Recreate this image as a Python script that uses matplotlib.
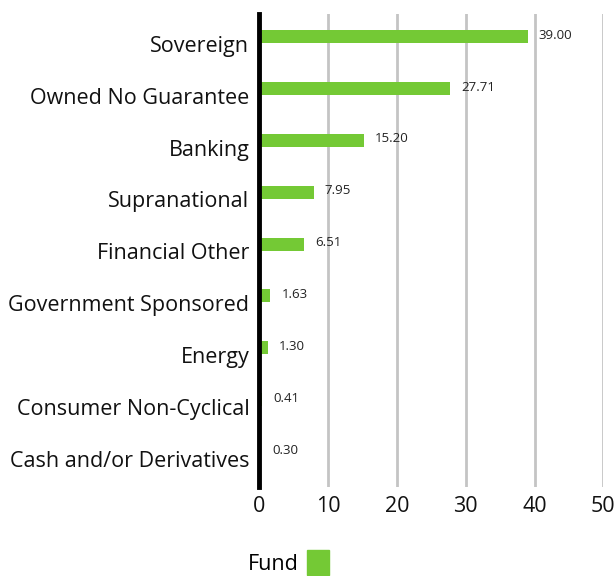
import matplotlib
matplotlib.use('Agg')
import matplotlib.pyplot as plt
from matplotlib.patches import Patch

categories = ['Sovereign', 'Owned No Guarantee', 'Banking', 'Supranational',
              'Financial Other', 'Government Sponsored', 'Energy',
              'Consumer Non-Cyclical', 'Cash and/or Derivatives']
fund = [39.00, 27.71, 15.20, 7.95, 6.51, 1.63, 1.30, 0.41, 0.30]
xticks = [0, 10, 20, 30, 40, 50]

green = '#74c935'
plt.rcParams['font.family'] = ['Open Sans', 'DejaVu Sans']

fig = plt.figure(figsize=(6.16, 5.76), dpi=100)
ax = fig.add_axes([0.4205, 0.155, 0.559, 0.82])

pos = list(range(len(categories)))
# bars sit in the upper part of each category band
bar_pos = [p - 0.14 for p in pos]
ax.barh(bar_pos, fund, height=0.25, color=green, zorder=3)
for p, v in zip(bar_pos, fund):
    ax.annotate(f'{v:.2f}', (v, p), xytext=(8, 1), textcoords='offset points',
                va='center', ha='left', fontsize=9.5, color='#222222')

ax.set_xlim(0, 50)
ax.set_ylim(8.54, -0.57)
ax.set_xticks(xticks)
ax.set_yticks(pos)
ax.set_yticklabels(categories)
ax.tick_params(axis='both', length=0, labelsize=15.5, colors='#111111')
ax.tick_params(axis='y', pad=7)
ax.tick_params(axis='x', pad=7)
ax.grid(axis='x', color='#c4c4c4', linewidth=2, zorder=0)
ax.set_axisbelow(True)
for s in ['top', 'right', 'bottom']:
    ax.spines[s].set_visible(False)
ax.spines['left'].set_linewidth(3.5)
ax.spines['left'].set_color('black')
ax.spines['left'].set_zorder(4)

fig.legend(handles=[Patch(color=green, label='Fund')], loc='center',
           bbox_to_anchor=(0.468, 0.023), frameon=False, markerfirst=False,
           handlelength=1.0, handleheight=1.4, handletextpad=0.4, fontsize=15.5,
           borderpad=0.1)

fig.savefig('out.png', dpi=100)
